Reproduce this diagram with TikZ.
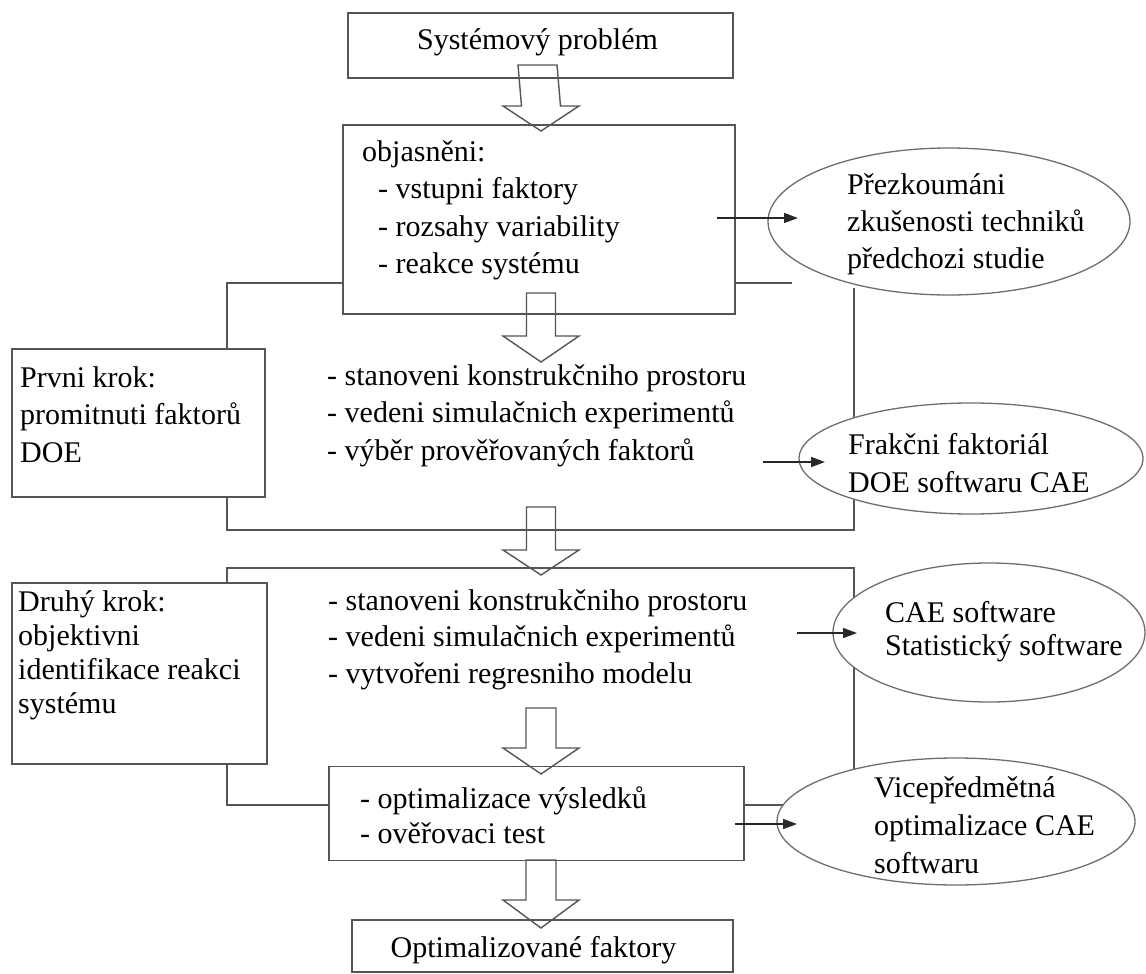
\documentclass[tikz,border=0pt]{standalone}
\usepackage{fontspec}
\setmainfont{Liberation Serif}
\usetikzlibrary{shapes.geometric,calc,arrows.meta}
\newcommand{\blockarr}[4]{% start, tip, half shaft width, head length
  \draw[barrow] ($(#1)+(-#3,0)$) -- ($(#2)+(-#3,-#4)$) -- ($(#2)+(-38,-#4)$) -- (#2)
    -- ($(#2)+(38,-#4)$) -- ($(#2)+(#3,-#4)$) -- ($(#1)+(#3,0)$) -- cycle;}
\begin{document}
\begin{tikzpicture}[x=1pt,y=-1pt,
  lc/.style={draw={rgb,255:red,85;green,85;blue,85}, line width=1.7pt},
  box/.style={lc, fill=white, rectangle, inner sep=0pt, outer sep=0pt},
  ell/.style={draw={rgb,255:red,110;green,110;blue,110}, line width=1.3pt, fill=white, ellipse, inner sep=0pt, outer sep=0pt},
  brk/.style={draw={rgb,255:red,85;green,85;blue,85}, line width=1.7pt},
  barrow/.style={draw={rgb,255:red,85;green,85;blue,85}, line width=1.4pt, line join=miter},
  sarrow/.style={draw={rgb,255:red,40;green,40;blue,40}, line width=1.5pt, -{Triangle[length=14pt,width=10pt]}},
  txt/.style={anchor=base west, align=left, inner sep=0pt, font=\fontsize{30}{37.5}\selectfont},
  txtc/.style={anchor=base, inner sep=0pt, font=\fontsize{30}{37.5}\selectfont},
]
\useasboundingbox[fill=white] (0,0) rectangle (1146,974);

% bracket coordinates
\coordinate (k1a) at (792,283);
\coordinate (k1b) at (227,283);
\coordinate (k1c) at (227,530);
\coordinate (k1d) at (854,530);
\coordinate (k1e) at (854,288);
\coordinate (k2a) at (790,805);
\coordinate (k2b) at (227,805);
\coordinate (k2c) at (227,568);
\coordinate (k2d) at (854,568);
\coordinate (k2e) at (854,821);
\draw[brk] (k1a) -- (k1b) -- (k1c) -- (k1d) -- (k1e);
\draw[brk] (k2a) -- (k2b) -- (k2c) -- (k2d) -- (k2e);

% boxes
\node[box, minimum width=385pt, minimum height=65pt] (b1) at (540.5,45.5) {};
\node[box, minimum width=392pt, minimum height=189pt] (b2) at (539,219.5) {};
\node[box, minimum width=253pt, minimum height=148pt] (p1) at (138.5,423) {};
\node[box, minimum width=255pt, minimum height=181pt] (p2) at (139.5,673.5) {};
\node[box, minimum width=415pt, minimum height=94pt] (b4) at (536.5,813.5) {};
\node[box, minimum width=381pt, minimum height=52pt] (b5) at (542.5,946) {};

% ellipses
\node[ell, minimum width=362pt, minimum height=147pt] (e1) at (949,221.5) {};
\node[ell, minimum width=344pt, minimum height=111pt] (e2) at (971,458.5) {};
\node[ell, minimum width=312pt, minimum height=139pt] (e3) at (989,632.5) {};
\node[ell, minimum width=358pt, minimum height=127pt] (e4) at (956,821.5) {};

% texts (anchor = baseline of the last line)
\node[txtc] (t1) at (537.5,50) {Systémový problém};
\node[txt] (t2a) at (362,161) {objasněni:};
\node[txt] (t2b) at (378,273.5) {- vstupni faktory\\- rozsahy variability\\- reakce systému};
\node[txt, font=\fontsize{30}{37}\selectfont] (te1) at (847,268) {Přezkoumáni\\zkušenosti techniků\\předchozi studie};
\node[txt] (tp1) at (20,462) {Prvni krok:\\promitnuti faktorů\\DOE};
\node[txt] (tm1) at (327,460) {- stanoveni konstrukčniho prostoru\\- vedeni simulačnich experimentů\\- výběr prověřovaných faktorů};
\node[txt] (te2) at (848,492) {Frakčni faktoriál\\DOE softwaru CAE};
\node[txt, font=\fontsize{30}{33.7}\selectfont] (tp2) at (18,713) {Druhý krok:\\objektivni\\identifikace reakci\\systému};
\node[txt, font=\fontsize{30}{36.5}\selectfont] (tm2) at (328,683) {- stanoveni konstrukčniho prostoru\\- vedeni simulačnich experimentů\\- vytvořeni regresniho modelu};
\node[txt, font=\fontsize{30}{33}\selectfont] (te3) at (885,655) {CAE software\\Statistický software};
\node[txt, font=\fontsize{30}{35}\selectfont] (t4) at (360,843) {- optimalizace výsledků\\- ověřovaci test};
\node[txt, font=\fontsize{30}{38}\selectfont] (te4) at (874,873) {Vicepředmětná\\optimalizace CAE\\softwaru};
\node[txtc] (t5) at (533.5,957) {Optimalizované faktory};

% block arrows
\coordinate (a1s) at (537.5,65);  \coordinate (a1e) at (541,131);
\coordinate (a2s) at (541,293);   \coordinate (a2e) at (541,362);
\coordinate (a3s) at (541,507);   \coordinate (a3e) at (541,575);
\coordinate (a4s) at (541,708);   \coordinate (a4e) at (541,774);
\coordinate (a5s) at (541,860);   \coordinate (a5e) at (541,928);
\blockarr{a1s}{a1e}{19.5}{25}
\blockarr{a2s}{a2e}{14.5}{26}
\blockarr{a3s}{a3e}{14.5}{25}
\blockarr{a4s}{a4e}{15}{26}
\blockarr{a5s}{a5e}{15}{28}

% small arrows
\coordinate (s1) at (717,218); \coordinate (f1) at (798,218);
\coordinate (s2) at (763,462); \coordinate (f2) at (825,462);
\coordinate (s3) at (797,633); \coordinate (f3) at (857,633);
\coordinate (s4) at (735,824); \coordinate (f4) at (797,824);
\draw[sarrow] (s1) -- (f1);
\draw[sarrow] (s2) -- (f2);
\draw[sarrow] (s3) -- (f3);
\draw[sarrow] (s4) -- (f4);
\end{tikzpicture}
\end{document}
